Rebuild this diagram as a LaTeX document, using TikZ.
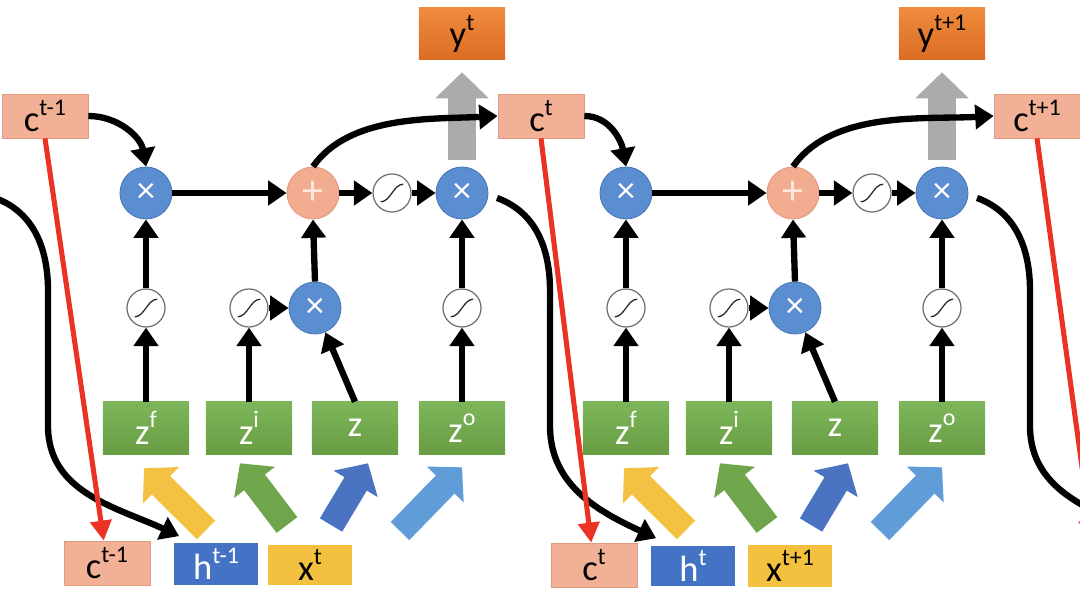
\documentclass[tikz,border=0pt]{standalone}
\usepackage{fontspec}
\setmainfont{Carlito}
\usepackage{tikz}
\usetikzlibrary{arrows.meta}
\definecolor{lstmGate}{HTML}{5B8DD1}
\definecolor{lstmGateEdge}{HTML}{4A78B4}
\definecolor{lstmAdd}{HTML}{F2AD90}
\definecolor{lstmAddEdge}{HTML}{E3977B}
\definecolor{lstmCell}{HTML}{F2B196}
\definecolor{lstmCellEdge}{HTML}{E2997D}
\definecolor{lstmZTop}{HTML}{7DB65A}
\definecolor{lstmZBot}{HTML}{699D43}
\definecolor{lstmH}{HTML}{4472C4}
\definecolor{lstmX}{HTML}{F4C03F}
\definecolor{lstmYTop}{HTML}{F08B3D}
\definecolor{lstmYBot}{HTML}{DB6C23}
\definecolor{lstmRed}{HTML}{EA3323}
\definecolor{lstmGray}{HTML}{ABABAB}
\definecolor{inYellow}{HTML}{F3C242}
\definecolor{inGreen}{HTML}{70A64B}
\definecolor{inBlue}{HTML}{4A74C2}
\definecolor{inLight}{HTML}{5F9CD8}
\newcommand{\sups}[1]{\raisebox{0.45em}{\fontsize{17}{19}\selectfont #1}}
\tikzset{
  labelFont/.style={font=\fontsize{26}{30}\selectfont},
  mulGate/.style={
    circle,
    fill=lstmGate,
    draw=lstmGateEdge,
    line width=0.6pt,
    minimum size=1.3cm,
    inner sep=0pt,
    text=white,
    font=\fontsize{26}{28}\selectfont
  },
  addGate/.style={
    circle,
    fill=lstmAdd,
    draw=lstmAddEdge,
    line width=0.6pt,
    minimum size=1.3cm,
    inner sep=0pt,
    text=white!70!lstmAdd,
    font=\fontsize{30}{32}\selectfont
  },
  sigGate/.style={
    circle,
    draw=black!55,
    line width=0.9pt,
    fill=white,
    minimum size=0.95cm,
    inner sep=0pt,
    path picture={
      \draw[line width=0.9pt, black!85]
        ([shift={(-0.28cm,-0.22cm)}]path picture bounding box.center)
        .. controls +(0.24cm,0) and +(-0.24cm,0) ..
        ([shift={(0.28cm,0.22cm)}]path picture bounding box.center);
    }
  },
  zBox/.style={top color=lstmZTop, bottom color=lstmZBot, minimum width=2.15cm,
    minimum height=1.3cm, text=white, labelFont},
  cBox/.style={fill=lstmCell, draw=lstmCellEdge, line width=0.5pt,
    minimum width=2.15cm, minimum height=1.1cm, labelFont},
  hBox/.style={fill=lstmH, minimum width=2.08cm, minimum height=1cm,
    text=white, labelFont},
  xBox/.style={fill=lstmX, minimum width=2.08cm, minimum height=1cm, labelFont},
  yBox/.style={top color=lstmYTop, bottom color=lstmYBot, minimum width=2.15cm,
    minimum height=1.3cm, labelFont},
  flowArrow/.style={line width=4.5pt, black, -{Triangle[width=0.6cm,length=0.46cm]}},
  copyArrow/.style={line width=3.6pt, lstmRed, -{Triangle[width=0.52cm,length=0.5cm]}},
  inArrow/.style={line width=0.65cm, -{Triangle[width=1.25cm,length=0.6cm]}},
  outArrow/.style={line width=0.7cm, lstmGray, -{Triangle[width=1.3cm,length=0.65cm]},
    shorten <=0.175cm, shorten >=0.3cm}
}

\begin{document}
\begin{tikzpicture}[x=0.025cm,y=0.025cm]
  \useasboundingbox (0,0) rectangle (1080,611);
  \clip (0,0) rectangle (1080,611);

  \node[cBox] (ct0) at (45,495) {c\sups{t-1}};
  \node[cBox] (ct1) at (541,495) {c\sups{t}};
  \node[cBox] (ct2) at (1037,495) {c\sups{t+1}};
  \coordinate (ox0) at (-40,418);
  \coordinate (cb3) at (1092,71);
  \coordinate (hb3) at (1160,70);

  \node[cBox] (cb1) at (107,48) {c\sups{t-1}};
  \node[hBox] (hb1) at (216,47) {h\sups{t-1}};
  \node[xBox] (xb1) at (310,46) {x\sups{t}};
  \node[cBox] (cb2) at (594,46) {c\sups{t}};
  \node[hBox] (hb2) at (693,45) {h\sups{t}};
  \node[xBox] (xb2) at (790,45) {x\sups{t+1}};

  \foreach \k/\dx/\yl in {1/0/t, 2/480/t+1} {
    \node[yBox] (yb\k) at (462+\dx,577) {y\sups{\yl}};
    \node[mulGate] (fx\k) at (146+\dx,418) {×};
    \node[addGate] (ad\k) at (313+\dx,418) {+};
    \node[sigGate] (sg\k) at (392+\dx,418) {};
    \node[mulGate] (ox\k) at (462+\dx,418) {×};
    \node[sigGate] (sf\k) at (146+\dx,303) {};
    \node[sigGate] (si\k) at (249+\dx,303) {};
    \node[mulGate] (ix\k) at (315+\dx,303) {×};
    \node[sigGate] (so\k) at (462+\dx,303) {};
    \node[zBox] (zf\k) at (146+\dx,183) {z\sups{f}};
    \node[zBox] (zi\k) at (249+\dx,183) {z\sups{i}};
    \node[zBox] (zz\k) at (355+\dx,183) {z};
    \node[zBox] (zo\k) at (462+\dx,183) {z\sups{o}};
    \coordinate (ty\k) at (206+\dx,81);
    \coordinate (tg\k) at (287+\dx,86);
    \coordinate (tb\k) at (331+\dx,86);
    \coordinate (tl\k) at (400+\dx,80);
  }

  \foreach \k in {1,2} {
    \draw[outArrow] (ox\k.north) -- (yb\k.south);
    \draw[inArrow, inYellow] (ty\k) -- ([shift={(-2,-14)}]zf\k.south);
    \draw[inArrow, inGreen] (tg\k) -- ([shift={(-9,-9)}]zi\k.south);
    \draw[inArrow, inBlue] (tb\k) -- ([shift={(13,-9)}]zz\k.south);
    \draw[inArrow, inLight] (tl\k) -- ([shift={(0,-13)}]zo\k.south);
    \foreach \a/\b in {zf/sf, sf/fx, zi/si, ix/ad, zo/so, so/ox}
      \draw[flowArrow] (\a\k.north) -- (\b\k.south);
    \foreach \a/\b in {fx/ad, ad/sg, sg/ox, si/ix}
      \draw[flowArrow] (\a\k.east) -- (\b\k.west);
    \draw[flowArrow] (zz\k.north) -- (ix\k);
    \draw[flowArrow] (ad\k.north) to[out=55, in=183, looseness=0.85] (ct\k.west);
  }
  \draw[flowArrow] (ct0.east) to[out=0, in=100] (fx1.north);
  \draw[flowArrow] (ct1.east) to[out=0, in=100] (fx2.north);

  \draw[flowArrow] ([shift={(35,-5)}]ox0.center) to[out=-20, in=90] ++(53,-93)
    -- ++(0,-135) to[out=-90, in=155] ([shift={(5,7)}]hb1.north west);
  \draw[flowArrow] ([shift={(35,-5)}]ox1.center) to[out=-20, in=90] ++(53,-93)
    -- ++(0,-135) to[out=-90, in=155] ([shift={(5,7)}]hb2.north west);
  \draw[flowArrow] ([shift={(35,-5)}]ox2.center) to[out=-20, in=90] ++(53,-93)
    -- ++(0,-135) to[out=-90, in=155] (hb3);

  \foreach \k/\km in {1/0, 2/1, 3/2}
    \draw[copyArrow] (ct\km.south) -- (cb\k);
\end{tikzpicture}
\end{document}
